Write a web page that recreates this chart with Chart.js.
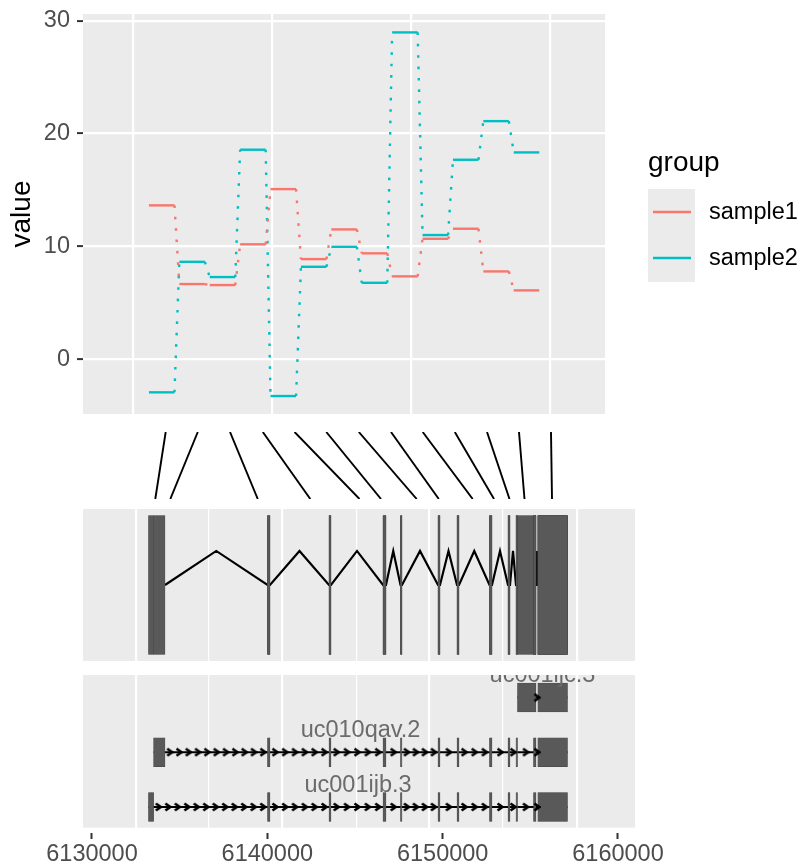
<!DOCTYPE html>
<html>
<head>
<meta charset="utf-8">
<script src="https://cdn.jsdelivr.net/npm/chart.js@4.4.0/dist/chart.umd.min.js"></script>
<style>
  body { margin: 0; background: #fff; overflow: hidden; }
  #wrap { position: relative; width: 803px; height: 867px; }
  #wrap canvas { position: absolute; left: 0; }
</style>
</head>
<body>
<div id="wrap">
  <canvas id="topChart" width="803" height="420" style="top:0px"></canvas>
  <canvas id="linkChart" width="803" height="88" style="top:420px"></canvas>
  <canvas id="modelChart" width="803" height="158" style="top:506px"></canvas>
  <canvas id="txChart" width="803" height="203" style="top:664px"></canvas>
</div>
<script>
const FONT = "'Liberation Sans', Arial, Helvetica, sans-serif";

// ---- top panel: value per exon for each sample
const exonIndex = [1, 2, 3, 4, 5, 6, 7, 8, 9, 10, 11, 12, 13];
const sample1 = [13.64, 6.67, 6.58, 10.19, 15.08, 8.88, 11.51, 9.39, 7.35, 10.68, 11.57, 7.79, 6.11];
const sample2 = [-2.92, 8.64, 7.29, 18.57, -3.25, 8.20, 9.97, 6.78, 28.96, 11.01, 17.68, 21.10, 18.33];
const seriesNames = ['sample1', 'sample2'];
const seriesColors = ['#F8766D', '#00BFC4'];
const yTicks = [0, 10, 20, 30];
const topGridBreaks = [0.056, 4.628, 9.2, 13.773];

// ---- gene model (genomic coordinates)
const transcripts = ['uc001ijb.3', 'uc010qav.2', 'uc001ijc.3'];
const rows = [1, 2, 3];
const ijbExons = [
  [6133222, 6133513], [6140010, 6140152], [6143517, 6143631], [6146597, 6146768],
  [6147595, 6147681], [6149734, 6149848], [6150818, 6150932], [6152671, 6152814],
  [6153727, 6153841], [6154183, 6154269], [6155181, 6155324], [6155426, 6157120]
];
const qavExons = [
  [6133513, 6134164], [6140010, 6140152], [6143517, 6143631], [6146597, 6146768],
  [6147595, 6147681], [6149734, 6149848], [6150818, 6150932], [6152671, 6152814],
  [6153727, 6153841], [6154183, 6154269], [6155181, 6155324], [6155426, 6157120]
];
const ijcExons = [[6154269, 6155324], [6155426, 6157120]];
const transcriptExons = [ijbExons, qavExons, ijcExons];

const axisTicks = [6130000, 6140000, 6150000, 6160000];
const trackGridBreaks = [6132510, 6136675, 6140840, 6145110, 6149220, 6153440, 6157660];
const genomeMin = 6129487, genomeMax = 6160970;

// links between the top panel and the gene model
const linkTop = [6134203, 6136034, 6137871, 6139742, 6141555, 6143363, 6145217, 6147053, 6148861, 6150692, 6152529, 6154354, 6156179];
const linkBottom = [6133610, 6134466, 6139456, 6142451, 6145257, 6146483, 6148519, 6149780, 6151713, 6152928, 6153812, 6154668, 6156236];

const HALF = 0.42;
const tickFont = { family: FONT, size: 23.5 };

const panelBg = {
  id: 'panelBg',
  beforeDraw(chart, args, opts) {
    const a = chart.chartArea, c = chart.ctx;
    c.save();
    c.fillStyle = '#EBEBEB';
    c.fillRect(a.left, a.top, a.right - a.left, a.bottom - a.top - (opts.trim || 0));
    c.restore();
  }
};

function stepPoints(vals) {
  const pts = [];
  exonIndex.forEach((x, i) => {
    pts.push({ x: x - HALF, y: vals[i] });
    pts.push({ x: x + HALF, y: vals[i] });
  });
  return pts;
}

const groupLegend = {
  id: 'groupLegend',
  afterDraw(chart) {
    const c = chart.ctx;
    c.save();
    c.fillStyle = '#000';
    c.font = '28px ' + FONT;
    c.textAlign = 'left';
    c.textBaseline = 'alphabetic';
    c.fillText('group', 648, 171);
    c.fillStyle = '#EBEBEB';
    c.fillRect(648, 189, 47, 93);
    seriesNames.forEach((name, i) => {
      const y = 212 + i * 46;
      c.strokeStyle = seriesColors[i];
      c.lineWidth = 2.4;
      c.beginPath(); c.moveTo(653, y); c.lineTo(691, y); c.stroke();
      c.fillStyle = '#000';
      c.font = '23.5px ' + FONT;
      c.fillText(name, 709, y + 6.5);
    });
    c.restore();
  }
};

new Chart(document.getElementById('topChart'), {
  type: 'line',
  data: {
    datasets: [sample1, sample2].map((vals, i) => ({
      label: seriesNames[i],
      data: stepPoints(vals),
      borderColor: seriesColors[i],
      borderWidth: 2.4,
      pointRadius: 0,
      tension: 0,
      segment: { borderDash: ctx => ctx.p0DataIndex % 2 === 1 ? [2.6, 8.8] : undefined }
    }))
  },
  options: {
    responsive: false,
    animation: false,
    layout: { padding: { left: 0, right: 198, top: 14, bottom: 6 } },
    plugins: { legend: { display: false }, tooltip: { enabled: false } },
    scales: {
      x: {
        type: 'linear', min: -1.589, max: 15.582, offset: false,
        afterBuildTicks: s => { s.ticks = topGridBreaks.map(v => ({ value: v })); },
        ticks: { display: false },
        grid: { color: '#FFFFFF', lineWidth: 2.2, drawTicks: false, offset: false },
        border: { display: false },
        afterFit: s => { s.height = 0; s.paddingLeft = 0; s.paddingRight = 0; }
      },
      y: {
        type: 'linear', min: -4.84, max: 30.59, offset: false,
        afterBuildTicks: s => { s.ticks = yTicks.map(v => ({ value: v })); },
        ticks: { color: '#4D4D4D', font: tickFont, padding: 7 },
        grid: { color: '#FFFFFF', lineWidth: 2.2, tickColor: '#333333', tickLength: 6, tickWidth: 2, offset: false },
        border: { display: false },
        title: { display: true, text: 'value', color: '#000', font: { family: FONT, size: 28 }, padding: { top: 5, bottom: 0 } },
        afterFit: s => { s.width = 83; s.paddingTop = 0; s.paddingBottom = 0; }
      }
    }
  },
  plugins: [panelBg, groupLegend]
});

// connecting lines
const linkPoints = [];
linkTop.forEach((t, i) => {
  linkPoints.push({ x: t, y: 1 });
  linkPoints.push({ x: linkBottom[i], y: 0 });
});

new Chart(document.getElementById('linkChart'), {
  type: 'line',
  data: {
    datasets: [{
      data: linkPoints,
      borderColor: '#000',
      borderWidth: 1.9,
      pointRadius: 0,
      tension: 0,
      segment: { borderColor: ctx => ctx.p0DataIndex % 2 === 1 ? 'rgba(0,0,0,0)' : '#000' }
    }]
  },
  options: {
    responsive: false,
    animation: false,
    layout: { padding: { left: 83, right: 168, top: 12, bottom: 9 } },
    plugins: { legend: { display: false }, tooltip: { enabled: false } },
    scales: {
      x: { type: 'linear', min: genomeMin, max: genomeMax, display: false, offset: false },
      y: { type: 'linear', min: 0, max: 1, display: false, offset: false }
    }
  }
});

// reduced gene model with zig-zag introns
const modelExons = transcriptExons.flat().slice().sort((a, b) => a[0] - b[0]);
const merged = [];
modelExons.forEach(e => {
  const last = merged[merged.length - 1];
  if (last && e[0] <= last[1]) last[1] = Math.max(last[1], e[1]);
  else merged.push([e[0], e[1]]);
});
const zigzag = [];
for (let i = 0; i < merged.length - 1; i++) {
  const s = merged[i][1], e = merged[i + 1][0];
  zigzag.push({ x: s, y: 5 }, { x: (s + e) / 2, y: 7.24 }, { x: e, y: 5 });
}

const trackGrid = {
  color: '#FFFFFF',
  lineWidth: ctx => (ctx.index % 2 ? 1.2 : 2.2),
  drawTicks: false,
  offset: false
};

new Chart(document.getElementById('modelChart'), {
  type: 'bar',
  data: {
    datasets: [
      {
        type: 'bar', indexAxis: 'y', xAxisID: 'x', yAxisID: 'y',
        data: modelExons.map(e => ({ x: e, y: 5 })),
        backgroundColor: '#595959', borderColor: '#444444', borderWidth: 0.6,
        borderSkipped: false, barThickness: 139, order: 0
      },
      {
        type: 'line', xAxisID: 'x', yAxisID: 'y',
        data: zigzag, borderColor: '#000', borderWidth: 2.2, pointRadius: 0, tension: 0, order: 1
      }
    ]
  },
  options: {
    responsive: false,
    animation: false,
    layout: { padding: { left: 83, right: 168, top: 3, bottom: 3 } },
    plugins: { legend: { display: false }, tooltip: { enabled: false } },
    scales: {
      x: {
        type: 'linear', min: genomeMin, max: genomeMax, offset: false,
        afterBuildTicks: s => { s.ticks = trackGridBreaks.map(v => ({ value: v })); },
        ticks: { display: false }, grid: trackGrid, border: { display: false },
        afterFit: s => { s.height = 0; s.paddingLeft = 0; s.paddingRight = 0; }
      },
      y: { type: 'linear', min: 0, max: 10, display: false, offset: false, grid: { offset: false } }
    }
  },
  plugins: [panelBg]
});

// transcripts track
function makeChevron() {
  const c = document.createElement('canvas');
  c.width = 8; c.height = 10;
  const g = c.getContext('2d');
  g.strokeStyle = '#000'; g.lineWidth = 2.6;
  g.beginPath(); g.moveTo(1.5, 1.5); g.lineTo(6.5, 5); g.lineTo(1.5, 8.5); g.stroke();
  return c;
}
const chevron = makeChevron();

const arrowPoints = [];
transcriptExons.forEach((ex, k) => {
  for (let i = 0; i < ex.length - 1; i++) {
    const s = ex[i][1], e = ex[i + 1][0];
    const n = Math.max(1, Math.floor((e - s) / 500));
    for (let j = 0; j < n; j++) arrowPoints.push({ x: s + (j + 0.5) * (e - s) / n, y: rows[k] });
  }
});

const txLabels = {
  id: 'txLabels',
  afterDatasetsDraw(chart) {
    const c = chart.ctx, a = chart.chartArea, xs = chart.scales.x, ys = chart.scales.y;
    c.save();
    c.beginPath(); c.rect(a.left, a.top, a.right - a.left, a.bottom - a.top); c.clip();
    c.font = '23.5px ' + FONT;
    c.fillStyle = '#6B6B6B';
    c.textAlign = 'center';
    c.textBaseline = 'middle';
    transcripts.forEach((t, k) => {
      const ex = transcriptExons[k];
      const mid = (ex[0][0] + ex[ex.length - 1][1]) / 2;
      c.fillText(t, xs.getPixelForValue(mid), ys.getPixelForValue(rows[k] + 0.4));
    });
    c.restore();
  }
};

const txDatasets = [{
  type: 'bar', indexAxis: 'y', xAxisID: 'x', yAxisID: 'y',
  data: transcriptExons.flatMap((ex, k) => ex.map(e => ({ x: e, y: rows[k] }))),
  backgroundColor: '#595959', borderColor: '#444444', borderWidth: 0.6,
  borderSkipped: false, barThickness: 29, order: 0
}, {
  type: 'line', xAxisID: 'x', yAxisID: 'y',
  data: arrowPoints, showLine: false, pointStyle: chevron, pointRadius: 5, order: -1
}];
transcriptExons.forEach((ex, k) => {
  txDatasets.push({
    type: 'line', xAxisID: 'x', yAxisID: 'y',
    data: [{ x: ex[0][0], y: rows[k] }, { x: ex[ex.length - 1][1], y: rows[k] }],
    borderColor: '#000', borderWidth: 2.2, pointRadius: 0, order: 2
  });
});

new Chart(document.getElementById('txChart'), {
  type: 'bar',
  data: { datasets: txDatasets },
  options: {
    responsive: false,
    animation: false,
    layout: { padding: { left: 83, right: 168, top: 11, bottom: 0 } },
    plugins: { legend: { display: false }, tooltip: { enabled: false }, panelBg: { trim: 5.3 } },
    scales: {
      x: {
        type: 'linear', min: genomeMin, max: genomeMax, offset: false,
        afterBuildTicks: s => { s.ticks = trackGridBreaks.map(v => ({ value: v })); },
        ticks: { display: false }, grid: trackGrid, border: { display: false },
        afterFit: s => { s.height = 0; s.paddingLeft = 0; s.paddingRight = 0; }
      },
      xAxis: {
        type: 'linear', position: 'bottom', min: genomeMin, max: genomeMax, offset: false,
        afterBuildTicks: s => { s.ticks = axisTicks.map(v => ({ value: v })); },
        ticks: { color: '#4D4D4D', font: tickFont, padding: 1, maxRotation: 0, autoSkip: false, callback: v => String(v) },
        grid: { drawOnChartArea: false, drawTicks: true, tickLength: 6, tickColor: '#333333', tickWidth: 2, offset: false },
        border: { display: false },
        afterFit: s => { s.height = 34; s.paddingLeft = 0; s.paddingRight = 0; }
      },
      y: { type: 'linear', min: 0.525, max: 3.411, display: false, offset: false, grid: { offset: false } }
    }
  },
  plugins: [panelBg, txLabels]
});
</script>
</body>
</html>
